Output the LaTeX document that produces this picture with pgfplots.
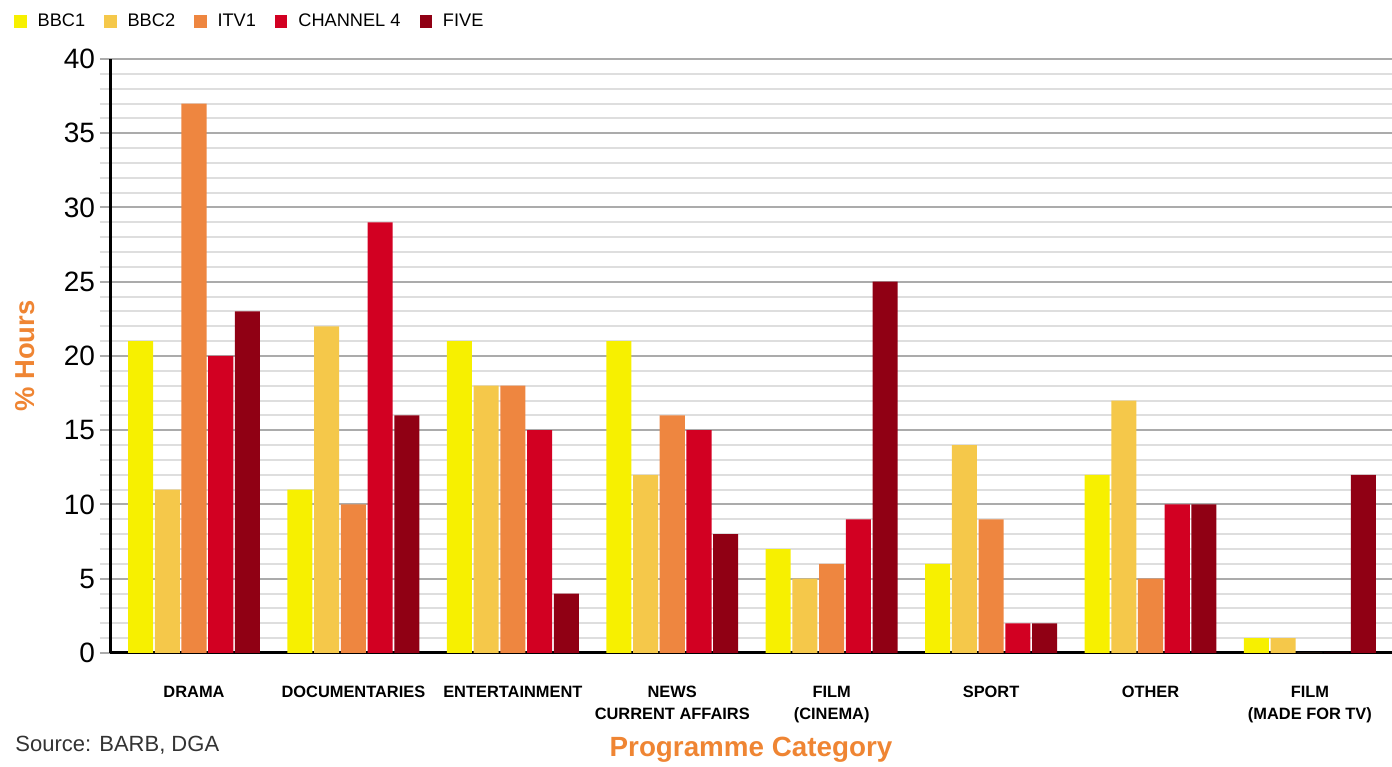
\documentclass[border=0pt]{standalone}
\usepackage{fontspec}
\setmainfont{Liberation Sans}
\usepackage{pgfplots}
\pgfplotsset{compat=1.18}
\definecolor{cbbca}{HTML}{F7F000}
\definecolor{cbbcb}{HTML}{F5C84A}
\definecolor{citv}{HTML}{EE8640}
\definecolor{cfour}{HTML}{D20022}
\definecolor{cfive}{HTML}{900014}
\definecolor{lblorange}{HTML}{EF8533}
\begin{document}
\begin{tikzpicture}
\begin{axis}[name=ax,
  scale only axis, width=641pt, height=297pt,
  ybar=0.85pt, bar width=0.157,
  xmin=-0.527, xmax=7.515, ymin=0, ymax=40,
  axis x line*=bottom, axis y line*=left,
  axis line style={line width=1.5pt, black},
  ytick={0,5,...,40}, minor ytick={0,1,...,40},
  ymajorgrids, yminorgrids,
  major grid style={line width=1pt, color=black!33},
  minor grid style={line width=1pt, color=black!13},
  tick align=outside,
  major tick length=5pt, minor tick length=5pt,
  major y tick style={line width=1pt, color=black!33},
  minor y tick style={line width=1pt, color=black!13},
  xtick={0,...,7}, xtick style={draw=none},
  xticklabels={DRAMA, DOCUMENTARIES, ENTERTAINMENT, {NEWS\\CURRENT AFFAIRS}, {FILM\\(CINEMA)}, SPORT, OTHER, {FILM\\(MADE FOR TV)}},
  xticklabel style={font=\fontsize{8.2}{11}\selectfont\bfseries, align=center, anchor=north, yshift=-8pt},
  yticklabel style={font=\fontsize{14}{16}\selectfont, xshift=1pt},
  /pgf/number format/assume math mode=true,
  ylabel={\% Hours},
  ylabel style={at={(rel axis cs:-0.0663,0.5)}, anchor=center, font=\fontsize{13.7}{15}\selectfont\bfseries, color=lblorange},
  xlabel={Programme Category},
  xlabel style={at={(rel axis cs:0.5,-0.163)}, anchor=center, font=\fontsize{13.9}{15}\selectfont\bfseries, color=lblorange},
  legend columns=5,
  legend style={at={(rel axis cs:-0.075,1.063)}, anchor=west, draw=none, fill=none,
    font=\fontsize{9.1}{10}\selectfont, inner sep=0pt,
    /tikz/every odd column/.append style={column sep=3.5pt},
    /tikz/every even column/.append style={column sep=7.5pt}},
  legend image code/.code={\fill[#1] (0pt,-3.1pt) rectangle (6.2pt,3.1pt);},
  clip=false,
]
\addplot[fill=cbbca, draw=none] coordinates {(0,21) (1,11) (2,21) (3,21) (4,7) (5,6) (6,12) (7,1)};
\addplot[fill=cbbcb, draw=none] coordinates {(0,11) (1,22) (2,18) (3,12) (4,5) (5,14) (6,17) (7,1)};
\addplot[fill=citv, draw=none] coordinates {(0,37) (1,10) (2,18) (3,16) (4,6) (5,9) (6,5) (7,0)};
\addplot[fill=cfour, draw=none] coordinates {(0,20) (1,29) (2,15) (3,15) (4,9) (5,2) (6,10) (7,0)};
\addplot[fill=cfive, draw=none] coordinates {(0,23) (1,16) (2,4) (3,8) (4,25) (5,2) (6,10) (7,12)};
\legend{BBC1, BBC2, ITV1, CHANNEL 4, FIVE}
\node[anchor=west, inner sep=0pt, font=\fontsize{11}{13}\selectfont, text=black!80] at (rel axis cs:-0.0741,-0.156) {Source: BARB, DGA};
\end{axis}
\pgfresetboundingbox
\useasboundingbox ([xshift=-55pt,yshift=-57pt]ax.south west) rectangle ([yshift=29.5pt]ax.north east);
\end{tikzpicture}
\end{document}
